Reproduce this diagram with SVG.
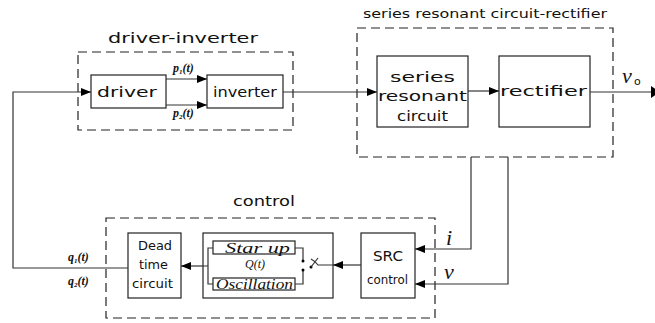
<svg xmlns="http://www.w3.org/2000/svg" width="655" height="323" viewBox="0 0 655 323">
<style>
.box{fill:#fff;stroke:#222;stroke-width:1.2}
.dash{fill:none;stroke:#222;stroke-width:1.2;stroke-dasharray:9 5}
.ln{fill:none;stroke:#333;stroke-width:1.2}
.t{font-family:"DejaVu Sans",sans-serif;font-size:14px;fill:#111}
.s{font-family:"Liberation Serif",serif;font-style:italic;fill:#111}
</style>
<defs>
<marker id="ah" markerWidth="10" markerHeight="8" refX="10" refY="4" orient="auto" markerUnits="userSpaceOnUse">
<path d="M0,0 L10,4 L0,8 Z" fill="#000"/>
</marker>
</defs>
<rect width="655" height="323" fill="#fff"/>

<g id="group-driver-inverter">
<rect class="dash" x="78" y="52" width="215" height="78"/>
<text class="t" x="108" y="43" textLength="150" lengthAdjust="spacingAndGlyphs">driver-inverter</text>
</g>
<g id="group-src-rectifier">
<rect class="dash" x="357" y="28" width="256" height="129"/>
<text class="t" x="363" y="18" textLength="244" lengthAdjust="spacingAndGlyphs" style="font-size:13px">series resonant circuit-rectifier</text>
</g>
<g id="group-control">
<rect class="dash" x="106" y="218" width="329" height="100"/>
<text class="t" x="233" y="206" textLength="62" lengthAdjust="spacingAndGlyphs">control</text>
</g>

<g id="driver">
<rect class="box" x="91" y="75" width="75" height="33"/>
<text class="t" x="97" y="97" textLength="60" lengthAdjust="spacingAndGlyphs">driver</text>
</g>
<g id="inverter">
<rect class="box" x="207" y="75" width="76" height="33"/>
<text class="t" x="213" y="97" textLength="64" lengthAdjust="spacingAndGlyphs">inverter</text>
</g>
<g id="series-resonant">
<rect class="box" x="377" y="56" width="91" height="71"/>
<text class="t" x="390" y="82" textLength="65" lengthAdjust="spacingAndGlyphs">series</text>
<text class="t" x="378" y="101" textLength="89" lengthAdjust="spacingAndGlyphs">resonant</text>
<text class="t" x="397" y="121" textLength="51" lengthAdjust="spacingAndGlyphs">circuit</text>
</g>
<g id="rectifier">
<rect class="box" x="499" y="56" width="91" height="71"/>
<text class="t" x="500" y="96" textLength="87" lengthAdjust="spacingAndGlyphs">rectifier</text>
</g>
<g id="dead-time">
<rect class="box" x="128" y="233" width="53" height="65"/>
<text class="t" x="138" y="250" textLength="34" lengthAdjust="spacingAndGlyphs" style="font-size:13px">Dead</text>
<text class="t" x="139" y="269" textLength="29" lengthAdjust="spacingAndGlyphs" style="font-size:13px">time</text>
<text class="t" x="132" y="288" textLength="41" lengthAdjust="spacingAndGlyphs" style="font-size:13px">circuit</text>
</g>
<g id="q-switch">
<rect class="box" x="203" y="233" width="130" height="65"/>
<rect class="box" x="213" y="241" width="82" height="13"/>
<text class="s" x="225" y="252.5" font-size="15" textLength="65" lengthAdjust="spacingAndGlyphs">Star up</text>
<text class="s" x="245" y="268" font-size="12">Q(t)</text>
<rect class="box" x="213" y="278" width="82" height="12"/>
<text class="s" x="216" y="288.5" font-size="14" textLength="77" lengthAdjust="spacingAndGlyphs">Oscillation</text>
<path class="ln" d="M213,248 H208 V284 H213 M203,266 H208"/>
<path class="ln" d="M295,248 H303 V261 M295,284 H303 V270"/>
<circle cx="303" cy="261" r="1.5" fill="#000"/>
<circle cx="303" cy="270" r="1.5" fill="#000"/>
<circle cx="311" cy="267" r="1.5" fill="#000"/>
<path class="ln" d="M311,267 L318,258 M311,259 Q315,261 318,265 H333"/>
</g>
<g id="src-control">
<rect class="box" x="361" y="233" width="54" height="65"/>
<text class="t" x="373" y="261" textLength="30" lengthAdjust="spacingAndGlyphs">SRC</text>
<text class="t" x="367" y="284" textLength="41" lengthAdjust="spacingAndGlyphs" style="font-size:12px">control</text>
</g>

<g id="connectors">
<path class="ln" d="M128,268 H13 V92 H91" marker-end="url(#ah)"/>
<path class="ln" d="M166,79 H207" marker-end="url(#ah)"/>
<path class="ln" d="M166,105 H207" marker-end="url(#ah)"/>
<path class="ln" d="M283,92 H377" marker-end="url(#ah)"/>
<path class="ln" d="M468,91 H499" marker-end="url(#ah)"/>
<path class="ln" d="M590,92 H652"/>
<polygon points="651,86 660,92 651,98" fill="#000"/>
<path class="ln" d="M471,157 V249 H415" marker-end="url(#ah)"/>
<path class="ln" d="M508,157 V284 H415" marker-end="url(#ah)"/>
<path class="ln" d="M361,265 H333" marker-end="url(#ah)"/>
<path class="ln" d="M203,266 H181" marker-end="url(#ah)"/>
</g>

<g id="labels">
<text class="s" x="173" y="72" font-size="12" font-weight="bold">p<tspan font-size="7" dy="2">1</tspan><tspan dy="-2">(t)</tspan></text>
<text class="s" x="173" y="117" font-size="12" font-weight="bold">p<tspan font-size="7" dy="2">2</tspan><tspan dy="-2">(t)</tspan></text>
<text class="s" x="68" y="261" font-size="12" font-weight="bold">q<tspan font-size="7" dy="2">1</tspan><tspan dy="-2">(t)</tspan></text>
<text class="s" x="68" y="285" font-size="12" font-weight="bold">q<tspan font-size="7" dy="2">2</tspan><tspan dy="-2">(t)</tspan></text>
<text class="s" x="622" y="83" font-size="22">v</text>
<text class="t" x="634" y="85" style="font-size:11px">o</text>
<text class="s" x="446" y="245" font-size="22">i</text>
<text class="s" x="444" y="279" font-size="22">v</text>
</g>
</svg>
